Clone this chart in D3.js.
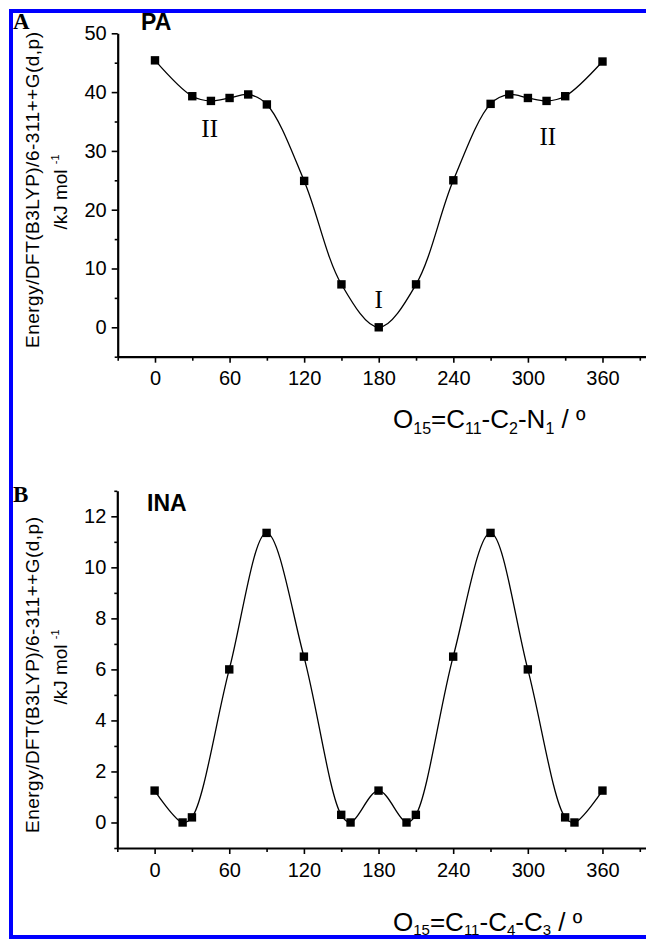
<!DOCTYPE html>
<html>
<head>
<meta charset="utf-8">
<script src="https://cdn.jsdelivr.net/npm/d3@7"></script>
<style>
  html, body { margin: 0; padding: 0; background: #fff; }
  svg { display: block; }
  text { font-family: "Liberation Sans", Arial, Helvetica, sans-serif; fill: #000; }
  .serif { font-family: "Liberation Serif", "Times New Roman", serif; }
</style>
</head>
<body>
<svg id="chart" width="646" height="939"></svg>
<script>
// ---- Data ----
const anglesA = [0, 30, 45, 60, 75, 90, 120, 150, 180, 210, 240, 270, 285, 300, 315, 330, 360];
const energyA = [45.4, 39.3, 38.5, 39.0, 39.6, 37.9, 24.9, 7.3, 0, 7.3, 25.0, 38.0, 39.6, 39.0, 38.5, 39.3, 45.2];

const anglesB = [0, 22.5, 30, 60, 90, 120, 150, 157.5, 180, 202.5, 210, 240, 270, 300, 330, 337.5, 360];
const energyB = [1.25, 0, 0.2, 6.0, 11.35, 6.5, 0.3, 0, 1.25, 0, 0.3, 6.5, 11.35, 6.0, 0.2, 0, 1.25];

const xMajorTicks = [0, 60, 120, 180, 240, 300, 360];
const xMinorTicks = [-30, 30, 90, 150, 210, 270, 330, 390];
const yMajorTicksA = [0, 10, 20, 30, 40, 50];
const yMinorTicksA = [-5, 5, 15, 25, 35, 45];
const yMajorTicksB = [0, 2, 4, 6, 8, 10, 12];
const yMinorTicksB = [-1, 1, 3, 5, 7, 9, 11, 13];

const panelLetters = ["A", "B"];
const compounds = ["PA", "INA"];
const yTitle1 = "Energy/DFT(B3LYP)/6-311++G(d,p)";
const conformerLabels = [
  {text: "II", x: 44, y: 32.4},
  {text: "I", x: 180, y: 3.3},
  {text: "II", x: 316, y: 31.0}
];

const svg = d3.select("#chart");

// blue frame (top, left, bottom)
const blue = "#0000ff";
svg.append("line").attr("x1", 9).attr("x2", 646).attr("y1", 11).attr("y2", 11).attr("stroke", blue).attr("stroke-width", 4);
svg.append("line").attr("x1", 11).attr("x2", 11).attr("y1", 9).attr("y2", 939).attr("stroke", blue).attr("stroke-width", 4);

function panel(cfg) {
  const x = d3.scaleLinear().domain([-30, 395]).range([cfg.left, 646]);
  const y = d3.scaleLinear().domain(cfg.yDomain).range([cfg.bottom, cfg.top]);
  const g = svg.append("g");

  // x axis
  const xAxis = d3.axisBottom(x).tickValues(xMajorTicks).tickSize(6).tickSizeOuter(0).tickPadding(8)
      .tickFormat(d3.format("d"));
  const gx = g.append("g").attr("transform", `translate(0,${cfg.bottom})`).call(xAxis);
  gx.select(".domain").attr("stroke-width", 2.2);
  gx.selectAll(".tick line").attr("stroke-width", 1.6);
  gx.selectAll(".tick text").attr("font-size", 20).attr("font-family", "Liberation Sans, Arial, sans-serif").attr("dy", "0.74em");
  const xMinor = d3.axisBottom(x).tickValues(xMinorTicks).tickSize(4).tickSizeOuter(0).tickFormat("");
  const gxm = g.append("g").attr("transform", `translate(0,${cfg.bottom})`).call(xMinor);
  gxm.select(".domain").remove();
  gxm.selectAll(".tick line").attr("stroke-width", 1.6);

  // y axis
  const yAxis = d3.axisLeft(y).tickValues(cfg.yMajor).tickSize(6).tickSizeOuter(0).tickPadding(5)
      .tickFormat(d3.format("d"));
  const gy = g.append("g").attr("transform", `translate(${cfg.left},0)`).call(yAxis);
  gy.select(".domain").attr("stroke-width", 2.2);
  gy.selectAll(".tick line").attr("stroke-width", 1.6);
  gy.selectAll(".tick text").attr("font-size", 20).attr("font-family", "Liberation Sans, Arial, sans-serif");
  const yMinor = d3.axisLeft(y).tickValues(cfg.yMinor).tickSize(3).tickSizeOuter(0).tickFormat("");
  const gym = g.append("g").attr("transform", `translate(${cfg.left},0)`).call(yMinor);
  gym.select(".domain").remove();
  gym.selectAll(".tick line").attr("stroke-width", 1.6);

  // curve
  const pts = cfg.xs.map((d, i) => [d, cfg.ys[i]]);
  const line = d3.line().x(d => x(d[0])).y(d => y(d[1])).curve(d3.curveCatmullRom.alpha(0.5));
  g.append("path").datum(pts).attr("d", line).attr("fill", "none").attr("stroke", "#000").attr("stroke-width", 1.3);

  // markers
  g.selectAll("rect.pt").data(pts).join("rect").attr("class", "pt")
    .attr("x", d => x(d[0]) - 4.2).attr("y", d => y(d[1]) - 4.2)
    .attr("width", 8.4).attr("height", 8.4).attr("fill", "#000");

  // panel letter
  g.append("text").attr("class", "serif").attr("x", 13).attr("y", cfg.letterY)
    .attr("font-size", 23).attr("font-weight", "bold").text(cfg.letter);
  // compound
  g.append("text").attr("x", cfg.compX).attr("y", cfg.compY)
    .attr("font-size", 23).attr("font-weight", "bold").text(cfg.comp);

  // y title
  g.append("text").attr("transform", `translate(38.5,${cfg.t1y}) rotate(-90)`)
    .attr("text-anchor", "middle").attr("font-size", 19)
    .attr("textLength", 316).attr("lengthAdjust", "spacing").text(yTitle1);
  const t2 = g.append("text").attr("transform", `translate(67,${cfg.t2y}) rotate(-90)`)
    .attr("text-anchor", "middle").attr("font-size", 19);
  t2.append("tspan").text("/kJ mol ");
  t2.append("tspan").attr("font-size", 11).attr("dy", -8).text("-1");

  // x title
  const xt = g.append("text").attr("x", cfg.xtX).attr("y", cfg.xtY).attr("font-size", 26);
  cfg.xTitle.forEach(p => {
    const ts = xt.append("tspan").text(p.t);
    if (p.sub) ts.attr("font-size", cfg.subSize).attr("dy", cfg.subDy);
    else if (p.after) ts.attr("dy", -cfg.subDy);
  });
  return {x, y, g};
}

const pA = panel({
  left: 117.7, top: 33.3, bottom: 356.7, yDomain: [-5, 50],
  yMajor: yMajorTicksA, yMinor: yMinorTicksA, xs: anglesA, ys: energyA,
  letter: panelLetters[0], letterY: 29, comp: compounds[0], compX: 141, compY: 30,
  t1y: 190, t2y: 192, xtX: 393, xtY: 428, subSize: 16, subDy: 6,
  xTitle: [{t: "O"}, {t: "15", sub: true}, {t: "=C", after: true}, {t: "11", sub: true}, {t: "-C", after: true},
           {t: "2", sub: true}, {t: "-N", after: true}, {t: "1", sub: true}, {t: " / º", after: true}]
});
const pB = panel({
  left: 117.3, top: 490.8, bottom: 848, yDomain: [-1, 13],
  yMajor: yMajorTicksB, yMinor: yMinorTicksB, xs: anglesB, ys: energyB,
  letter: panelLetters[1], letterY: 502, comp: compounds[1], compX: 147, compY: 511,
  t1y: 675, t2y: 667, xtX: 393, xtY: 931, subSize: 15, subDy: 4,
  xTitle: [{t: "O"}, {t: "15", sub: true}, {t: "=C", after: true}, {t: "11", sub: true}, {t: "-C", after: true},
           {t: "4", sub: true}, {t: "-C", after: true}, {t: "3", sub: true}, {t: " / º", after: true}]
});

// bottom blue border drawn over the B title
svg.append("line").attr("x1", 9).attr("x2", 646).attr("y1", 937).attr("y2", 937).attr("stroke", blue).attr("stroke-width", 4);

// conformer labels (panel A)
pA.g.selectAll("text.conf").data(conformerLabels).join("text").attr("class", "conf serif")
  .attr("x", d => pA.x(d.x)).attr("y", d => pA.y(d.y)).attr("text-anchor", "middle")
  .attr("font-size", 25).text(d => d.text);
</script>
</body>
</html>
